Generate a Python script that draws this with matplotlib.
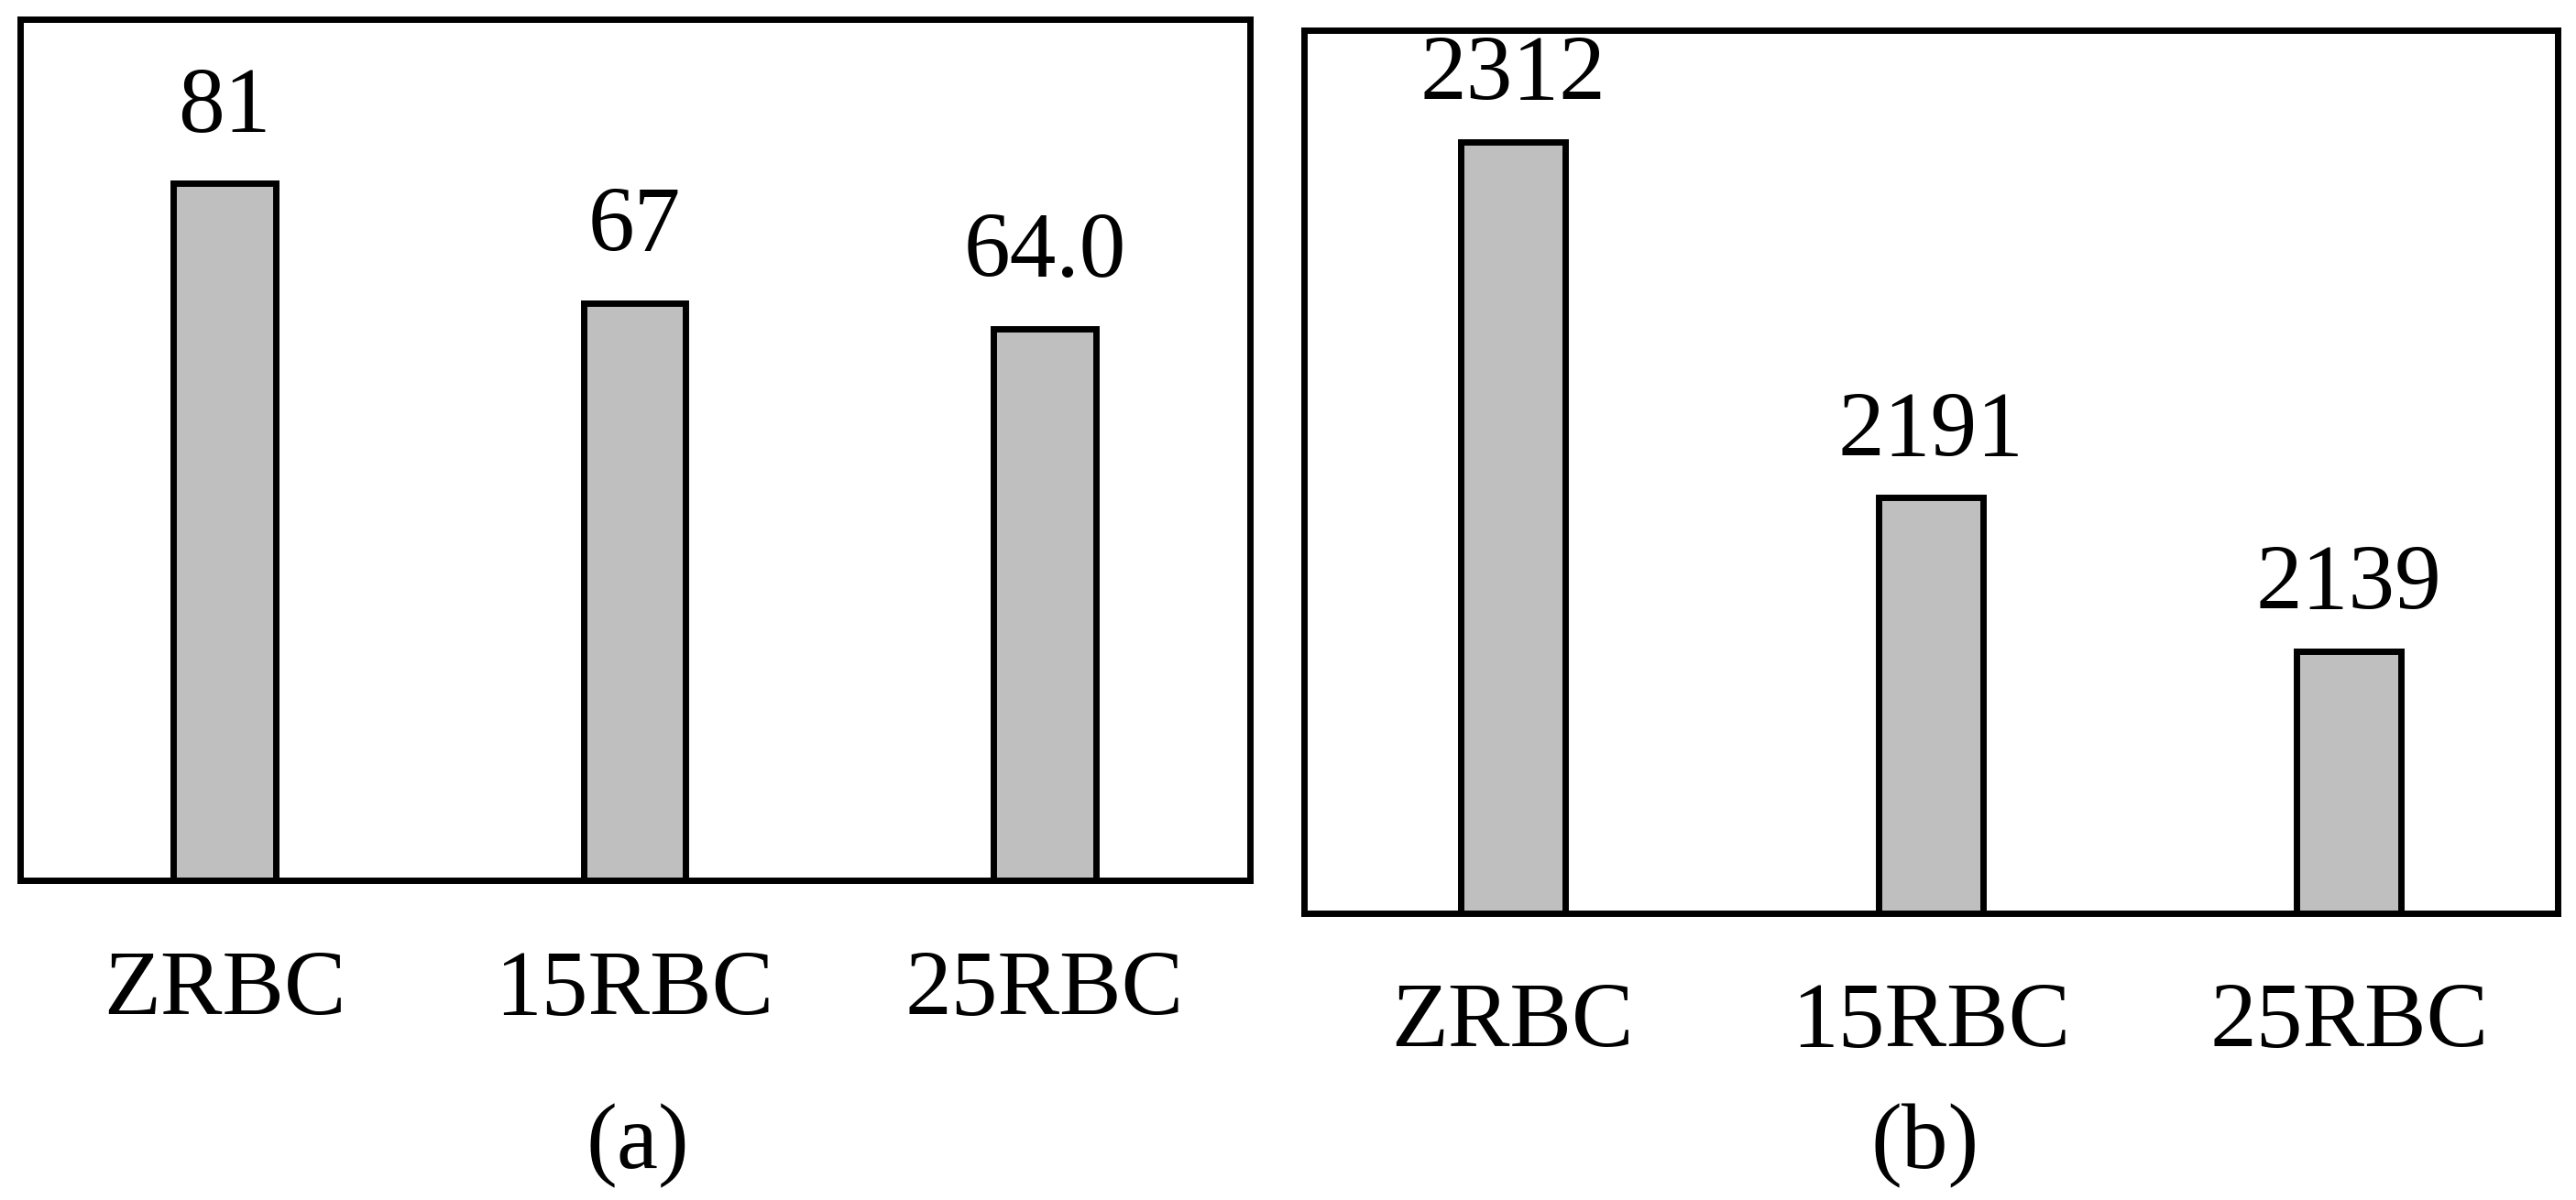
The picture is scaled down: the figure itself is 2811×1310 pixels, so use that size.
import matplotlib.pyplot as plt

# dados
categorias = ["ZRBC", "15RBC", "25RBC"]
valores_a = [81, 67, 64.0]
rotulos_a = ["81", "67", "64.0"]
valores_b = [2312, 2191, 2139]
rotulos_b = ["2312", "2191", "2139"]

plt.rcParams['font.family'] = ['Liberation Serif', 'DejaVu Serif']
plt.rcParams['font.size'] = 73

fig = plt.figure(figsize=(28.11, 13.10), dpi=100)

# posicao dos eixos em fracao da figura
ax_a = fig.add_axes([0.00765, 0.26641, 0.47745, 0.71756])
ax_b = fig.add_axes([0.50605, 0.23931, 0.48701, 0.73588])


def painel(ax, valores, rotulos, ylim, offset):
    x = range(len(categorias))
    ax.bar(x, valores, width=0.25, color='#bfbfbf', edgecolor='black',
           linewidth=5, zorder=2)
    for xi, v, r in zip(x, valores, rotulos):
        ax.annotate(r, (xi, v), xytext=(0, offset), textcoords='offset points',
                    ha='center', va='baseline')
    ax.set_xlim(-0.5, 2.5)
    ax.set_ylim(*ylim)
    ax.set_xticks(list(x))
    ax.set_xticklabels(categorias)
    ax.set_yticks([])
    ax.tick_params(axis='x', length=0, pad=55)
    for s in ax.spines.values():
        s.set_linewidth(5)
        s.set_zorder(3)


painel(ax_a, valores_a, rotulos_a, (0, 100), 41)
painel(ax_b, valores_b, rotulos_b, (2050, 2350), 33)

fig.text(0.2476, 1 - 1275 / 1310, "(a)", ha='center', va='baseline')
fig.text(0.7474, 1 - 1275 / 1310, "(b)", ha='center', va='baseline')

fig.savefig("out.png", dpi=100)
